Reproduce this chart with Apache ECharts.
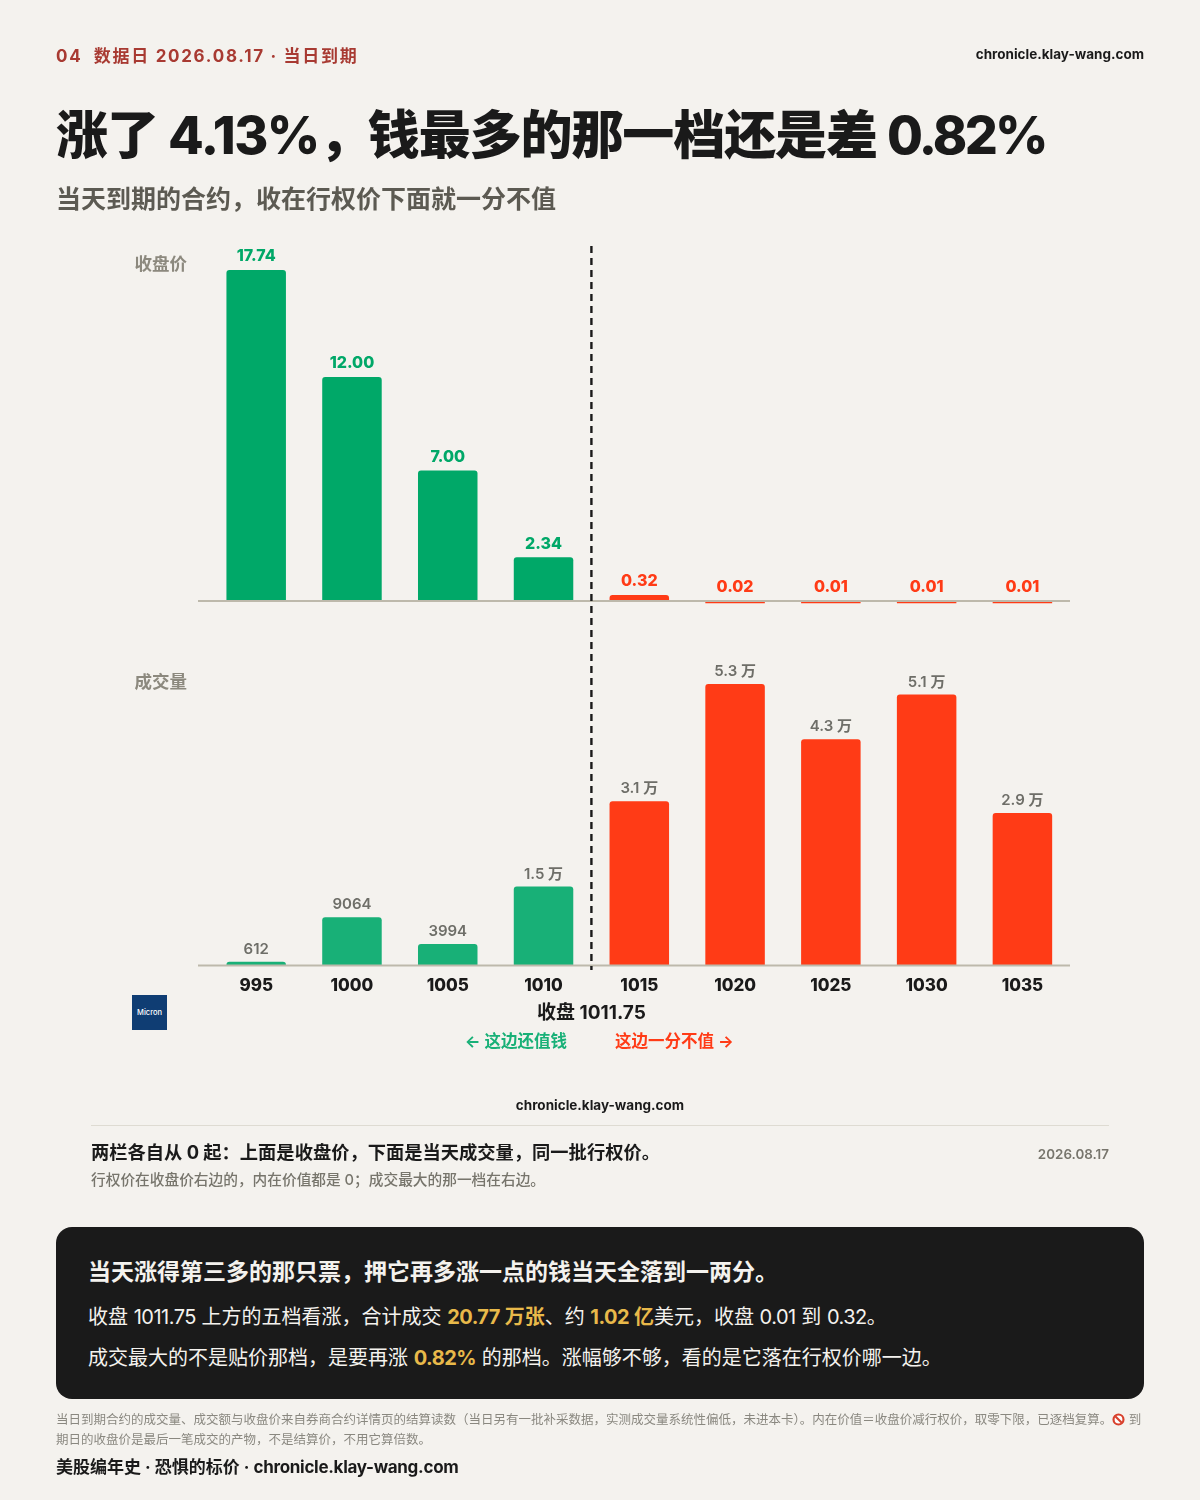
<!DOCTYPE html>
<html>
<head>
<meta charset="utf-8" />
<title>涨了 4.13%</title>
<style>
    html, body { margin: 0; padding: 0; background: #f4f2ee; }
    body { position: relative; width: 1200px; height: 1500px; overflow: hidden;
        font-family: Inter, "Noto Sans CJK SC", sans-serif; color: #1a1a1a; }
    #main { position: absolute; left: 0; top: 0; width: 1200px; height: 1500px; }
    .t { position: absolute; white-space: nowrap; line-height: 30px; height: 30px; }
    .kicker { left: 56px; top: 41px; font-size: 17px; font-weight: 700; color: #a83a32; letter-spacing: 1.7px; }
    .site { right: 56px; top: 39px; font-size: 13.5px; font-weight: 700; }
    .title { left: 56px; top: 106px; font-size: 52px; line-height: 60px; height: 60px; font-weight: 800; letter-spacing: -1.1px; }
    .sub { left: 56px; top: 184px; font-size: 25px; font-weight: 700; color: #5c5a52; }
    .logo { position: absolute; left: 132px; top: 995px; width: 35px; height: 35px; background: #0f3d73;
        color: #fff; font-size: 7.5px; line-height: 35px; text-align: center; font-weight: 500; }
    .rule { position: absolute; left: 91px; top: 1125px; width: 1018px; height: 1px; background: #dedbd2; }
    .card { position: absolute; left: 56px; top: 1227px; width: 1088px; height: 171.5px; background: #1a1a1a; border-radius: 16px; }
    .card .t { left: 32px; color: #f4f2ee; font-size: 20px; }
    .card b { color: #e8b94a; font-weight: 700; }
    .n { letter-spacing: -0.5px; }
    .fine { left: 56px; font-size: 12.5px; color: #8a8880; }
    .fine svg { vertical-align: -2px; }
</style>
<script src="https://cdn.jsdelivr.net/npm/echarts@6/dist/echarts.min.js"></script>
</head>
<body>
<div id="main"></div>

<div class="t kicker">04&nbsp; 数据日 2026.08.17 · 当日到期</div>
<div class="t site">chronicle.klay-wang.com</div>
<div class="t title">涨了 <span style="letter-spacing:-1.5px;">4.13%</span><span style="letter-spacing:-3px;">，</span>钱最多的那一档还是差 <span style="letter-spacing:-2.7px;">0.82%</span></div>
<div class="t sub">当天到期的合约，收在行权价下面就一分不值</div>

<div class="logo">Micron</div>

<div class="t" style="left:0;width:1200px;text-align:center;top:1090px;font-size:13.5px;font-weight:700;">chronicle.klay-wang.com</div>
<div class="rule"></div>
<div class="t" style="left:91px;top:1137px;font-size:18.27px;font-weight:700;">两栏各自从 0 起：上面是收盘价，下面是当天成交量，同一批行权价。</div>
<div class="t" style="right:91px;top:1139px;font-size:13.4px;font-weight:600;color:#77756c;">2026.08.17</div>
<div class="t" style="left:91px;top:1165px;font-size:14.7px;font-weight:500;color:#77756c;">行权价在收盘价右边的，内在价值都是 0；成交最大的那一档在右边。</div>

<div class="card">
    <div class="t" style="top:30px;font-size:23px;font-weight:700;">当天涨得第三多的那只票，押它再多涨一点的钱当天全落到一两分。</div>
    <div class="t" style="top:75px;">收盘 <span class="n">1011.75</span> 上方的五档看涨，合计成交 <b class="n">20.77</b><b> 万张</b>、约 <b class="n">1.02</b><b> 亿</b>美元，收盘 <span class="n">0.01</span> 到 <span class="n">0.32</span>。</div>
    <div class="t" style="top:116px;">成交最大的不是贴价那档，是要再涨 <b class="n">0.82%</b> 的那档。涨幅够不够，看的是它落在行权价哪一边。</div>
</div>

<div class="t fine" style="top:1405px;">当日到期合约的成交量、成交额与收盘价来自券商合约详情页的结算读数（当日另有一批补采数据，实测成交量系统性偏低，未进本卡）。内在价值＝收盘价减行权价，取零下限，已逐档复算。<svg width="13" height="13" viewBox="0 0 12 12"><circle cx="6" cy="6" r="4.6" fill="#fff" stroke="#d8402c" stroke-width="2"/><line x1="3" y1="3" x2="9" y2="9" stroke="#d8402c" stroke-width="2"/></svg> 到</div>
<div class="t fine" style="top:1425px;">期日的收盘价是最后一笔成交的产物，不是结算价，不用它算倍数。</div>
<div class="t" style="left:56px;top:1452px;font-size:17px;font-weight:700;">美股编年史 · 恐惧的标价 · <span style="letter-spacing:-0.3px;">chronicle.klay-wang.com</span></div>

<script type="text/javascript">
    const strikes = ['995', '1000', '1005', '1010', '1015', '1020', '1025', '1030', '1035'];
    const closePrices = [17.74, 12.00, 7.00, 2.34, 0.32, 0.02, 0.01, 0.01, 0.01];
    const volumes = [612, 9064, 3994, 14900, 31100, 53400, 42900, 51400, 28900];
    const closeLabel = '收盘 1011.75';
    const closeValue = 1011.75;

    const GREEN = '#00a868';
    const GREEN_SOFT = '#18b077';
    const RED = '#ff3b16';
    const BAR_W = 59.5;
    const FONT = 'Inter, "Noto Sans CJK SC", sans-serif';

    function isLive(i) { return Number(strikes[i]) < closeValue; }
    function volText(v) { return v >= 10000 ? (v / 10000).toFixed(1) + ' 万' : String(v); }

    const myChart = echarts.init(document.getElementById('main'), null, { renderer: 'canvas' });

    const option = {
        animation: false,
        grid: [
            { left: 208.3, right: 129.7, top: 270, height: 331 },
            { left: 208.3, right: 129.7, top: 684, height: 281 }
        ],
        xAxis: [
            { gridIndex: 0, type: 'category', data: strikes, axisLine: { show: false }, axisTick: { show: false }, axisLabel: { show: false } },
            {
                gridIndex: 1, type: 'category', data: strikes, axisLine: { show: false }, axisTick: { show: false },
                axisLabel: { margin: 12, fontSize: 17, fontWeight: 800, color: '#1a1a1a', fontFamily: FONT }
            }
        ],
        yAxis: [
            { gridIndex: 0, type: 'value', min: 0, max: Math.max(...closePrices), show: false },
            { gridIndex: 1, type: 'value', min: 0, max: Math.max(...volumes), show: false }
        ],
        series: [
            {
                type: 'bar', xAxisIndex: 0, yAxisIndex: 0, barWidth: BAR_W, silent: true,
                data: closePrices.map((v, i) => ({
                    value: v,
                    itemStyle: { color: isLive(i) ? GREEN : RED, borderRadius: [3, 3, 0, 0] },
                    label: { color: isLive(i) ? GREEN : RED }
                })),
                label: {
                    show: true, position: 'top', distance: 5.5, fontSize: 16, fontWeight: 800, fontFamily: FONT,
                    formatter: p => p.value.toFixed(2)
                }
            },
            {
                // bars too short to see still get a hairline under the axis
                type: 'custom', xAxisIndex: 0, yAxisIndex: 0, silent: true, z: 3,
                data: closePrices.map((v, i) => [i, v]).filter(d => d[1] < 0.1),
                renderItem: function (params, api) {
                    const p = api.coord([api.value(0), 0]);
                    return { type: 'rect', shape: { x: p[0] - BAR_W / 2, y: p[1], width: BAR_W, height: 2.2 }, style: { fill: RED } };
                }
            },
            {
                type: 'bar', xAxisIndex: 1, yAxisIndex: 1, barWidth: BAR_W, silent: true,
                data: volumes.map((v, i) => ({
                    value: v,
                    itemStyle: { color: isLive(i) ? GREEN_SOFT : RED, borderRadius: [3, 3, 0, 0] }
                })),
                label: {
                    show: true, position: 'top', distance: 5, fontSize: 15, fontWeight: 600, color: '#6e6e68', fontFamily: FONT,
                    formatter: p => volText(p.value)
                }
            }
        ]
    };
    myChart.setOption(option);

    // 基准线和收盘虚线要跟着轴走，先画一遍再取像素
    const y0 = myChart.convertToPixel({ xAxisIndex: 0, yAxisIndex: 0 }, ['1010', 0])[1];
    const y1 = myChart.convertToPixel({ xAxisIndex: 1, yAxisIndex: 1 }, ['1010', 0])[1];
    const x1010 = myChart.convertToPixel({ xAxisIndex: 1 }, '1010');
    const x1015 = myChart.convertToPixel({ xAxisIndex: 1 }, '1015');
    const xClose = (x1010 + x1015) / 2;

    function baseLine(y) {
        return { type: 'line', z: 10, shape: { x1: 198, y1: y, x2: 1070, y2: y }, style: { stroke: '#bdb9ab', lineWidth: 1.8 } };
    }
    function text(x, y, str, size, color, weight, align) {
        return {
            type: 'text', z: 12, x: x, y: y,
            style: { text: str, fontSize: size, fill: color, fontWeight: weight, fontFamily: FONT, align: align || 'center', verticalAlign: 'middle' }
        };
    }

    myChart.setOption({
        graphic: {
            elements: [
                baseLine(y0),
                baseLine(y1 + 0.5),
                { type: 'line', z: 11, shape: { x1: xClose, y1: 246, x2: xClose, y2: 970 }, style: { stroke: '#1a1a1a', lineWidth: 2.4, lineDash: [7, 5] } },
                text(187, 265, '收盘价', 17.5, '#8c897e', 700, 'right'),
                text(187, 683, '成交量', 17.5, '#8c897e', 700, 'right'),
                text(xClose, 1013, closeLabel, 19, '#1a1a1a', 700),
                text(567, 1042, '← 这边还值钱', 16.5, GREEN_SOFT, 700, 'right'),
                text(615, 1042, '这边一分不值 →', 16.5, RED, 700, 'left')
            ]
        }
    });
</script>
</body>
</html>
